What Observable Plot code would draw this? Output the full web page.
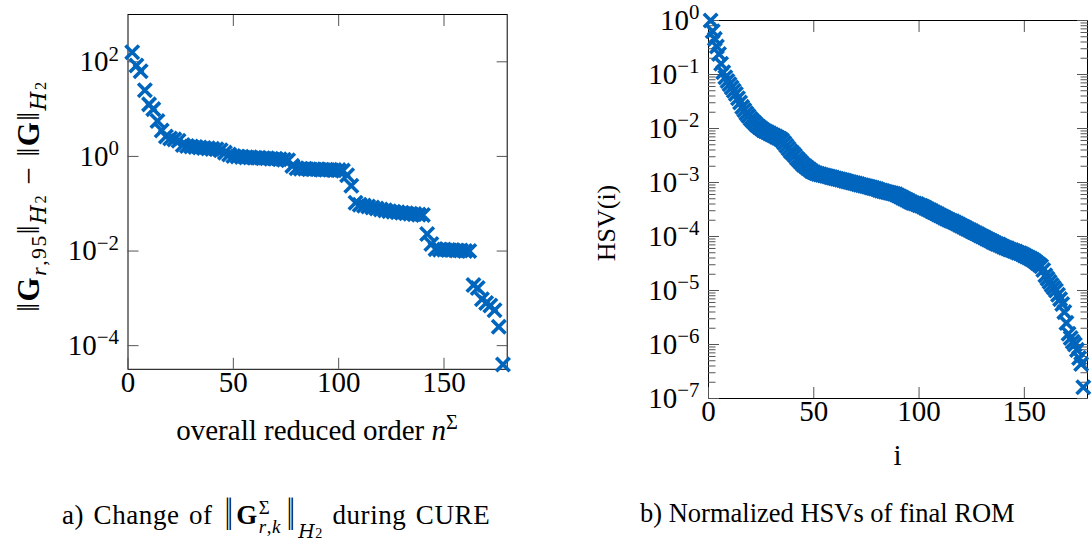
<!DOCTYPE html>
<html><head><meta charset="utf-8">
<script src="https://cdn.jsdelivr.net/npm/d3@7"></script>
<script src="https://cdn.jsdelivr.net/npm/@observablehq/plot@0.6"></script>
<style>
html,body{margin:0;padding:0;background:#fff;}
#wrap{position:relative;width:1092px;height:556px;overflow:hidden;font-family:"Liberation Serif",serif;color:#000;}
#wrap svg{position:absolute;left:0;top:0;overflow:visible;}
.lbl{position:absolute;white-space:nowrap;font-size:29px;line-height:1;}
.lbl sub,.lbl sup{font-size:0.7em;line-height:0;}
.stack{display:inline-flex;flex-direction:column;vertical-align:middle;font-size:0.7em;line-height:1.0;margin-left:1px;margin-right:3px;}
.bars{display:inline-block;transform:scaleY(1.7);margin:0 3px;}
.cal{font-family:"DejaVu Serif",serif;font-style:italic;}
</style></head><body><div id="wrap"></div>
<script>
// ---------- data ----------
// (a) CURE: overall reduced order and log10 of H2-norm gap
const cureOrder = [2,4,6,8,10,12,14,16,18,20,22,24,26,28,30,32,34,36,38,40,42,44,46,48,50,52,54,56,58,60,62,64,66,68,70,72,74,76,78,80,82,84,86,88,90,92,94,96,98,100,102,104,106,108,110,112,114,116,118,120,122,124,126,128,130,132,134,136,138,140,142,144,146,148,150,152,154,156,158,160,162,164,166,168,170,172,174,176,178];
const cureLog10Gap = [2.20,1.92,1.80,1.40,1.10,1.00,0.75,0.55,0.42,0.38,0.36,0.33,0.24,0.22,0.21,0.20,0.19,0.18,0.17,0.16,0.15,0.13,0.08,0.04,0.01,0.00,-0.01,-0.02,-0.02,-0.03,-0.03,-0.04,-0.04,-0.05,-0.05,-0.06,-0.07,-0.08,-0.20,-0.25,-0.26,-0.26,-0.27,-0.27,-0.27,-0.28,-0.28,-0.28,-0.29,-0.29,-0.30,-0.40,-0.62,-0.98,-1.02,-1.04,-1.06,-1.08,-1.10,-1.12,-1.14,-1.16,-1.17,-1.18,-1.19,-1.20,-1.21,-1.22,-1.23,-1.24,-1.64,-1.85,-1.96,-1.97,-1.97,-1.98,-1.98,-1.99,-1.99,-2.00,-2.00,-2.72,-2.78,-3.02,-3.10,-3.15,-3.25,-3.60,-4.40];
// (b) normalized HSVs of final ROM, log10, i = 1..178
const hsvLog10 = [0.00,-0.20,-0.34,-0.48,-0.62,-0.80,-0.96,-1.05,-1.12,-1.18,
-1.24,-1.30,-1.36,-1.44,-1.52,-1.60,-1.66,-1.72,-1.77,-1.82,
-1.86,-1.90,-1.94,-1.97,-2.00,-2.03,-2.05,-2.07,-2.09,-2.11,
-2.13,-2.15,-2.17,-2.19,-2.22,-2.27,-2.32,-2.37,-2.42,-2.46,
-2.50,-2.55,-2.59,-2.63,-2.67,-2.70,-2.73,-2.76,-2.79,-2.81,
-2.83,-2.84,-2.85,-2.86,-2.87,-2.88,-2.89,-2.90,-2.91,-2.92,
-2.93,-2.94,-2.95,-2.96,-2.97,-2.98,-2.99,-3.00,-3.01,-3.02,
-3.03,-3.04,-3.05,-3.06,-3.07,-3.08,-3.09,-3.10,-3.11,-3.12,
-3.14,-3.15,-3.16,-3.17,-3.18,-3.19,-3.20,-3.21,-3.22,-3.24,
-3.26,-3.28,-3.30,-3.32,-3.34,-3.36,-3.38,-3.39,-3.40,-3.42,
-3.43,-3.45,-3.47,-3.49,-3.51,-3.53,-3.55,-3.57,-3.59,-3.61,
-3.63,-3.65,-3.67,-3.69,-3.71,-3.72,-3.74,-3.76,-3.78,-3.80,
-3.82,-3.84,-3.86,-3.88,-3.90,-3.92,-3.94,-3.96,-3.98,-4.00,
-4.02,-4.04,-4.06,-4.08,-4.10,-4.12,-4.14,-4.15,-4.17,-4.19,
-4.21,-4.22,-4.24,-4.25,-4.27,-4.28,-4.30,-4.31,-4.33,-4.35,
-4.37,-4.39,-4.41,-4.43,-4.46,-4.49,-4.52,-4.55,-4.62,-4.72,
-4.78,-4.84,-4.90,-4.95,-5.00,-5.08,-5.16,-5.25,-5.40,-5.60,
-5.80,-5.88,-5.95,-6.00,-6.10,-6.25,-6.36,-6.79];
const xTicks = [0,50,100,150];
const leftYExp = [-4,-2,0,2];
const rightYExp = [0,-1,-2,-3,-4,-5,-6,-7];
const minorMult = [2,3,4,5,6,7,8,9];

// ---------- build ----------
const BLUE = "#0065BD";
const W = 1092, H = 556;
const wrap = document.getElementById("wrap");
const cure = cureOrder.map((n, k) => ({n, v: Math.pow(10, cureLog10Gap[k])}));
const hsv = hsvLog10.map((l, k) => ({i: k + 1, v: Math.pow(10, l)}));
const pow10Label = d => "10^" + Math.round(Math.log10(d));
const blank = () => "";
const style = {fontFamily: '"Liberation Serif", serif', fontSize: "29px", color: "#000", background: "transparent", overflow: "visible"};

function fixSup(svg) {
  svg.querySelectorAll("text").forEach(t => {
    const s = t.textContent;
    if (s.startsWith("10^")) {
      const e = s.slice(3).replace("-", "\u2212");
      t.textContent = "10";
      const ts = document.createElementNS("http://www.w3.org/2000/svg", "tspan");
      ts.setAttribute("dy", "-0.5em");
      ts.setAttribute("font-size", "0.72em");
      ts.textContent = e;
      t.appendChild(ts);
    }
  });
}

const leftTop = 14, leftBottom = 368.8, leftL = 127.5, leftR = 506.7;
const left = Plot.plot({
  width: W, height: H,
  marginLeft: leftL, marginRight: W - leftR, marginTop: leftTop, marginBottom: H - leftBottom,
  style,
  x: {domain: [0, 180]},
  y: {type: "log", domain: [Math.pow(10, -4.5), 1000]},
  marks: [
    Plot.frame({stroke: "#000", strokeWidth: 1}),
    Plot.axisX({anchor: "bottom", ticks: xTicks, tickSize: -11, tickPadding: 13, stroke: "#555", label: null}),
    Plot.axisX({anchor: "top", ticks: xTicks.slice(1), tickSize: -11, tickFormat: blank, stroke: "#555", label: null}),
    Plot.axisY({anchor: "left", ticks: leftYExp.map(e => Math.pow(10, e)), tickSize: -11, tickPadding: 20, tickFormat: pow10Label, stroke: "#555", label: null}),
    Plot.axisY({anchor: "right", ticks: leftYExp.map(e => Math.pow(10, e)), tickSize: -11, tickFormat: blank, stroke: "#555", label: null}),
    Plot.dot(cure, {x: "n", y: "v", symbol: "times", r: 6.2, stroke: BLUE, strokeWidth: 3.6})
  ]
});
fixSup(left);
wrap.appendChild(left);

const rTop = 20, rBottom = 398, rL = 708, rR = 1087;
const minors = [];
for (let e = -7; e < 0; e++) for (const m of minorMult) minors.push(m * Math.pow(10, e));
const right = Plot.plot({
  width: W, height: H,
  marginLeft: rL, marginRight: W - rR, marginTop: rTop, marginBottom: H - rBottom,
  style,
  x: {domain: [0, 180]},
  y: {type: "log", domain: [1e-7, 1]},
  marks: [
    Plot.frame({stroke: "#000", strokeWidth: 1}),
    Plot.axisX({anchor: "bottom", ticks: xTicks, tickSize: -11, tickPadding: 13, stroke: "#555", label: null}),
    Plot.axisX({anchor: "top", ticks: xTicks.slice(1), tickSize: -11, tickFormat: blank, stroke: "#555", label: null}),
    Plot.axisY({anchor: "left", ticks: rightYExp.map(e => Math.pow(10, e)), tickSize: -11, tickPadding: 20, tickFormat: pow10Label, stroke: "#555", label: null}),
    Plot.axisY({anchor: "right", ticks: rightYExp.map(e => Math.pow(10, e)), tickSize: -11, tickFormat: blank, stroke: "#555", label: null}),
    Plot.axisY({anchor: "left", ticks: minors, tickSize: -7.5, tickFormat: blank, stroke: "#555", label: null}),
    Plot.axisY({anchor: "right", ticks: minors, tickSize: -7.5, tickFormat: blank, stroke: "#555", label: null}),
    Plot.dot(hsv, {x: "i", y: "v", symbol: "times", r: 6.2, stroke: BLUE, strokeWidth: 3.6})
  ]
});
fixSup(right);
wrap.appendChild(right);

// ---------- text labels ----------
function addLabel(html, x, y, extra, size) {
  const d = document.createElement("div");
  d.className = "lbl";
  d.innerHTML = html;
  d.style.left = x + "px";
  d.style.top = y + "px";
  d.style.transform = extra || "translate(-50%,-50%)";
  if (size) d.style.fontSize = size + "px";
  wrap.appendChild(d);
  return d;
}
const H2 = '<span class="cal">H</span><span style="font-size:0.75em">2</span>';
addLabel('overall reduced order <i>n</i><sup>Σ</sup>', 317, 430);
addLabel('i', 897.5, 455);
const yl = addLabel('‖<b>G</b><sub><i>r</i>,95</sub>‖<sub>' + H2 + '</sub>&nbsp;−&nbsp;‖<b>G</b>‖<sub>' + H2 + '</sub>', 28, 196, "translate(-50%,-50%) rotate(-90deg)", 31);
yl.style.letterSpacing = "1.5px";
addLabel('HSV(i)', 607, 223, "translate(-50%,-50%) rotate(-90deg)", 26);
const ca = addLabel('a) Change of <span class="bars">‖</span><b>G</b><span class="stack"><span>Σ</span><span><i>r</i>,<i>k</i></span></span><span class="bars">‖</span><sub style="vertical-align:-0.75em">' + H2 + '</sub> during CURE', 62, 518, "translate(0,-50%)", 27);
ca.style.letterSpacing = "0.6px";
ca.style.wordSpacing = "2px";
addLabel('b) Normalized HSVs of final ROM', 640, 513, "translate(0,-50%)", 26.5);
</script></body></html>
